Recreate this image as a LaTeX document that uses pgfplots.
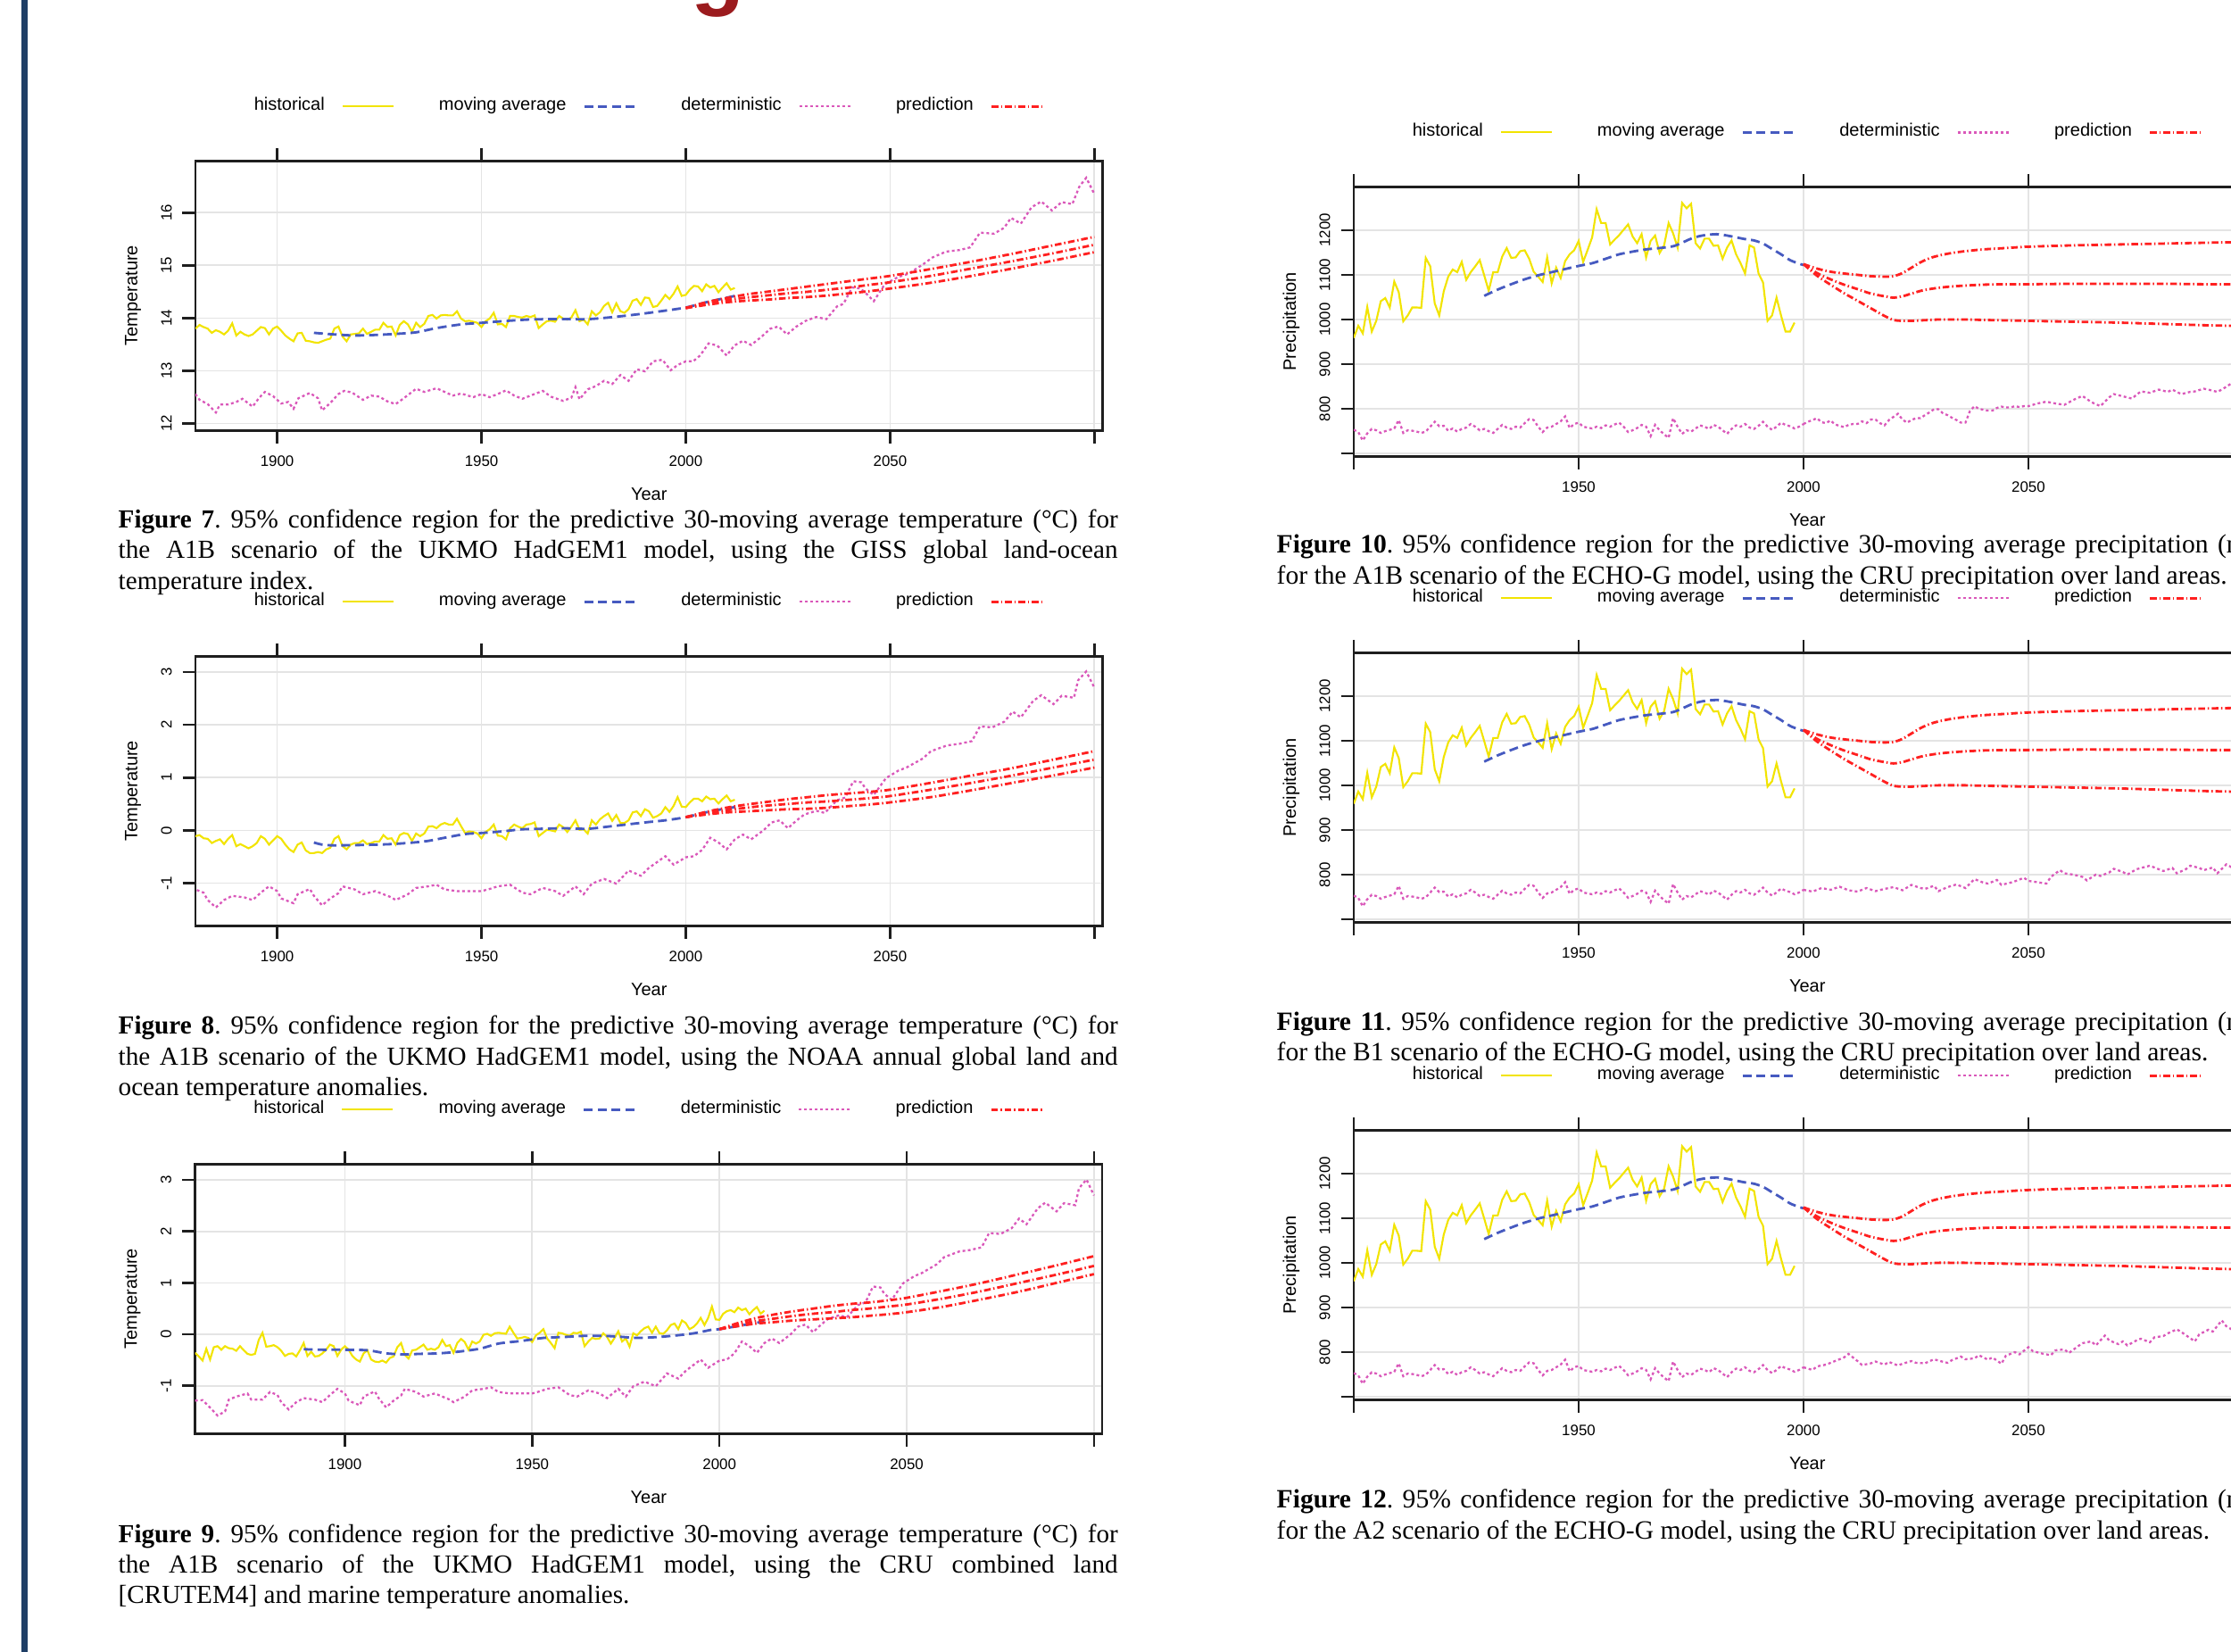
\documentclass[border=0pt]{standalone}
\usepackage{pgfplots}
\usepackage{pgfplotstable}
\pgfplotsset{compat=1.18}
\usepackage{fontspec}
\setmainfont{Liberation Serif}
\setsansfont{Liberation Sans}

\definecolor{histyellow}{RGB}{242,228,0}
\definecolor{mablue}{RGB}{70,90,192}
\definecolor{detpink}{RGB}{218,88,186}
\definecolor{predred}{RGB}{255,32,32}
\definecolor{gridgray}{RGB}{228,228,228}
\definecolor{axisgray}{RGB}{30,30,30}
\definecolor{barblue}{RGB}{31,63,102}
\definecolor{titlered}{RGB}{155,27,30}

% ---------------- temperature data ----------------
\pgfplotstableread{
x y
1880 13.80
1881 13.87
1882 13.83
1883 13.80
1884 13.72
1885 13.77
1886 13.74
1887 13.69
1888 13.76
1889 13.90
1890 13.67
1891 13.74
1892 13.69
1893 13.66
1894 13.69
1895 13.76
1896 13.83
1897 13.81
1898 13.69
1899 13.80
1900 13.84
1901 13.76
1902 13.67
1903 13.61
1904 13.56
1905 13.71
1906 13.72
1907 13.57
1908 13.56
1909 13.54
1910 13.53
1911 13.56
1912 13.59
1913 13.61
1914 13.80
1915 13.84
1916 13.65
1917 13.56
1918 13.69
1919 13.70
1920 13.71
1921 13.80
1922 13.70
1923 13.74
1924 13.78
1925 13.78
1926 13.91
1927 13.83
1928 13.84
1929 13.67
1930 13.87
1931 13.94
1932 13.88
1933 13.74
1934 13.91
1935 13.83
1936 13.89
1937 14.04
1938 14.06
1939 13.99
1940 14.05
1941 14.06
1942 14.05
1943 14.05
1944 14.13
1945 13.99
1946 13.94
1947 13.95
1948 13.93
1949 13.91
1950 13.83
1951 13.94
1952 13.99
1953 14.10
1954 13.88
1955 13.89
1956 13.83
1957 14.04
1958 14.04
1959 14.02
1960 14.01
1961 14.04
1962 14.02
1963 14.05
1964 13.81
1965 13.88
1966 13.94
1967 13.95
1968 13.93
1969 14.04
1970 13.99
1971 13.97
1972 14.01
1973 14.15
1974 13.94
1975 13.97
1976 13.88
1977 14.13
1978 14.05
1979 14.11
1980 14.23
1981 14.29
1982 14.11
1983 14.28
1984 14.13
1985 14.10
1986 14.17
1987 14.33
1988 14.36
1989 14.25
1990 14.39
1991 14.38
1992 14.21
1993 14.23
1994 14.33
1995 14.44
1996 14.36
1997 14.46
1998 14.60
1999 14.42
2000 14.44
2001 14.54
2002 14.61
2003 14.60
2004 14.51
2005 14.64
2006 14.58
2007 14.61
2008 14.49
2009 14.58
2010 14.66
2011 14.54
2012 14.57
}\histA

\pgfplotstableread{
x y
1909 13.72
1914 13.69
1919 13.67
1924 13.68
1929 13.70
1934 13.73
1939 13.81
1945 13.88
1950 13.91
1955 13.94
1961 13.97
1966 13.98
1971 13.98
1976 13.98
1981 14.01
1987 14.06
1993 14.12
2000 14.20
2005 14.30
2012 14.42
}\maA

\pgfplotstableread{
x y
1880 12.56
1881 12.45
1883 12.37
1885 12.21
1886 12.36
1888 12.36
1890 12.41
1891.5 12.47
1894 12.32
1895.5 12.48
1897 12.60
1899 12.52
1901 12.38
1902.7 12.41
1904 12.28
1905.2 12.48
1908 12.58
1910 12.48
1911 12.25
1913 12.39
1915 12.56
1916.4 12.62
1918.3 12.59
1921 12.45
1923 12.53
1925 12.51
1927 12.42
1929 12.37
1931 12.48
1934 12.66
1936 12.60
1939 12.67
1941 12.60
1943 12.53
1945 12.57
1948 12.50
1950 12.56
1952 12.50
1954 12.56
1956 12.63
1958 12.53
1960 12.47
1962 12.53
1965 12.62
1967 12.51
1970 12.43
1972 12.49
1973 12.69
1974 12.46
1976 12.65
1978 12.71
1980 12.81
1982 12.75
1984 12.92
1986 12.81
1988 13.03
1990 12.99
1992 13.18
1994.3 13.21
1996.3 13.01
1998 13.11
2000 13.18
2001.8 13.18
2003.5 13.29
2005.6 13.52
2007.7 13.48
2010 13.29
2011.9 13.48
2014 13.57
2016 13.49
2018.6 13.65
2020.7 13.80
2022.7 13.84
2024.8 13.69
2026.9 13.83
2029.4 13.95
2031.9 14.02
2034.4 13.98
2037 14.22
2038.6 14.27
2040.7 14.58
2042.8 14.56
2044.5 14.44
2046 14.32
2048.7 14.64
2052 14.78
2054.5 14.84
2057.9 15.01
2060.4 15.15
2063.7 15.26
2067 15.29
2069.6 15.34
2072 15.62
2075.4 15.60
2077.9 15.71
2079.6 15.90
2082 15.79
2084.6 16.10
2087 16.21
2089.6 16.04
2092 16.20
2094.6 16.16
2096.3 16.49
2098 16.66
2100 16.35
}\detA

\pgfplotstableread{
x u m l
2000 14.19 14.19 14.19
2005 14.30 14.27 14.25
2010 14.38 14.34 14.30
2015 14.45 14.39 14.33
2020 14.50 14.43 14.35
2025 14.55 14.47 14.38
2030 14.60 14.50 14.40
2035 14.65 14.54 14.43
2040 14.70 14.58 14.47
2045 14.75 14.63 14.51
2050 14.80 14.68 14.56
2060 14.93 14.80 14.67
2070 15.07 14.94 14.80
2080 15.22 15.08 14.94
2090 15.38 15.23 15.09
2100 15.54 15.39 15.25
}\predA

\pgfplotstableread{
x y
1880 -0.11
1881 -0.09
1882 -0.15
1883 -0.16
1884 -0.24
1885 -0.20
1886 -0.17
1887 -0.26
1888 -0.16
1889 -0.09
1890 -0.30
1891 -0.26
1892 -0.30
1893 -0.34
1894 -0.30
1895 -0.24
1896 -0.11
1897 -0.16
1898 -0.27
1899 -0.19
1900 -0.11
1901 -0.16
1902 -0.27
1903 -0.36
1904 -0.41
1905 -0.27
1906 -0.23
1907 -0.38
1908 -0.43
1909 -0.43
1910 -0.41
1911 -0.43
1912 -0.36
1913 -0.33
1914 -0.16
1915 -0.11
1916 -0.30
1917 -0.36
1918 -0.27
1919 -0.24
1920 -0.24
1921 -0.19
1922 -0.26
1923 -0.24
1924 -0.21
1925 -0.21
1926 -0.09
1927 -0.16
1928 -0.15
1929 -0.27
1930 -0.09
1931 -0.05
1932 -0.07
1933 -0.20
1934 -0.06
1935 -0.11
1936 -0.06
1937 0.07
1938 0.08
1939 0.04
1940 0.11
1941 0.14
1942 0.11
1943 0.11
1944 0.22
1945 0.08
1946 -0.05
1947 -0.02
1948 -0.03
1949 -0.06
1950 -0.15
1951 -0.03
1952 0.02
1953 0.11
1954 -0.10
1955 -0.11
1956 -0.17
1957 0.04
1958 0.11
1959 0.07
1960 0.04
1961 0.11
1962 0.12
1963 0.15
1964 -0.11
1965 -0.05
1966 0.01
1967 0.00
1968 -0.02
1969 0.11
1970 0.06
1971 -0.03
1972 0.07
1973 0.19
1974 0.01
1975 0.02
1976 -0.06
1977 0.19
1978 0.11
1979 0.21
1980 0.27
1981 0.32
1982 0.18
1983 0.29
1984 0.14
1985 0.14
1986 0.19
1987 0.34
1988 0.36
1989 0.27
1990 0.40
1991 0.36
1992 0.24
1993 0.27
1994 0.32
1995 0.44
1996 0.35
1997 0.46
1998 0.63
1999 0.45
2000 0.44
2001 0.53
2002 0.60
2003 0.60
2004 0.55
2005 0.64
2006 0.59
2007 0.60
2008 0.51
2009 0.59
2010 0.66
2011 0.55
2012 0.58
}\histB

\pgfplotstableread{
x y
1909 -0.23
1912 -0.28
1919 -0.28
1928 -0.26
1936 -0.21
1941 -0.14
1946 -0.07
1950 -0.05
1955 -0.02
1960 0.02
1965 0.03
1970 0.04
1976 0.03
1982 0.08
1990 0.15
1995 0.19
2000 0.25
2006 0.36
2012 0.44
}\maB

\pgfplotstableread{
x y
1860 -1.29
1862 -1.28
1863 -1.35
1865 -1.50
1866 -1.58
1868 -1.50
1869 -1.27
1871 -1.21
1874 -1.15
1875 -1.27
1878 -1.27
1880 -1.12
1882 -1.18
1883 -1.32
1885 -1.46
1887 -1.32
1889 -1.24
1892 -1.27
1894 -1.32
1896 -1.18
1898 -1.06
1900 -1.15
1901 -1.29
1904 -1.38
1905 -1.21
1908 -1.11
1909 -1.24
1911 -1.42
1913 -1.29
1915 -1.19
1916 -1.06
1919 -1.12
1921 -1.21
1924 -1.15
1926 -1.21
1928 -1.27
1929 -1.32
1932 -1.21
1934 -1.09
1937 -1.06
1939 -1.03
1941 -1.12
1944 -1.15
1947 -1.15
1950 -1.15
1952 -1.11
1954 -1.06
1957 -1.03
1960 -1.18
1962 -1.21
1965 -1.09
1968 -1.15
1970 -1.24
1973 -1.06
1975 -1.21
1977 -1.01
1980 -0.92
1983 -1.01
1986 -0.76
1989 -0.86
1991 -0.71
1995 -0.49
1997 -0.65
2000 -0.51
2002 -0.49
2004 -0.37
2006 -0.14
2008 -0.23
2010 -0.36
2012 -0.17
2014 -0.08
2016 -0.17
2019 0.00
2021 0.15
2023 0.19
2025 0.04
2027 0.18
2029 0.30
2032 0.37
2034 0.33
2037 0.57
2039 0.62
2041 0.93
2043 0.91
2044 0.79
2046 0.67
2049 0.99
2052 1.13
2054 1.19
2058 1.36
2060 1.50
2064 1.61
2067 1.64
2070 1.69
2072 1.97
2075 1.95
2078 2.06
2080 2.25
2082 2.14
2085 2.45
2087 2.56
2090 2.39
2092 2.55
2095 2.51
2096 2.84
2098 3.01
2100 2.70
}\detB

\pgfplotstableread{
x u m l
2000 0.25 0.25 0.25
2005 0.35 0.32 0.30
2010 0.43 0.38 0.34
2015 0.49 0.43 0.36
2020 0.54 0.47 0.38
2025 0.59 0.50 0.40
2030 0.63 0.53 0.41
2035 0.67 0.55 0.43
2040 0.70 0.58 0.46
2045 0.73 0.61 0.49
2050 0.77 0.65 0.53
2060 0.90 0.77 0.63
2070 1.04 0.90 0.76
2080 1.18 1.04 0.90
2090 1.34 1.19 1.04
2100 1.50 1.34 1.19
}\predB

\pgfplotstableread{
x y
1860 -0.36
1861 -0.43
1862 -0.51
1863 -0.28
1864 -0.49
1865 -0.25
1866 -0.23
1867 -0.30
1868 -0.23
1869 -0.27
1870 -0.28
1871 -0.32
1872 -0.23
1873 -0.31
1874 -0.38
1875 -0.40
1876 -0.38
1877 -0.11
1878 0.03
1879 -0.24
1880 -0.23
1881 -0.21
1882 -0.25
1883 -0.32
1884 -0.42
1885 -0.38
1886 -0.37
1887 -0.43
1888 -0.31
1889 -0.17
1890 -0.42
1891 -0.34
1892 -0.43
1893 -0.42
1894 -0.37
1895 -0.30
1896 -0.20
1897 -0.23
1898 -0.42
1899 -0.30
1900 -0.23
1901 -0.30
1902 -0.42
1903 -0.49
1904 -0.53
1905 -0.37
1906 -0.31
1907 -0.49
1908 -0.53
1909 -0.54
1910 -0.51
1911 -0.55
1912 -0.46
1913 -0.43
1914 -0.25
1915 -0.17
1916 -0.40
1917 -0.47
1918 -0.31
1919 -0.30
1920 -0.25
1921 -0.20
1922 -0.30
1923 -0.28
1924 -0.30
1925 -0.25
1926 -0.11
1927 -0.23
1928 -0.21
1929 -0.36
1930 -0.17
1931 -0.09
1932 -0.15
1933 -0.30
1934 -0.14
1935 -0.18
1936 -0.14
1937 -0.01
1938 0.01
1939 -0.03
1940 0.02
1941 0.03
1942 0.02
1943 0.01
1944 0.15
1945 0.03
1946 -0.08
1947 -0.07
1948 -0.05
1949 -0.07
1950 -0.15
1951 -0.02
1952 0.03
1953 0.10
1954 -0.08
1955 -0.17
1956 -0.27
1957 0.03
1958 0.02
1959 -0.01
1960 -0.03
1961 0.03
1962 0.02
1963 0.05
1964 -0.23
1965 -0.14
1966 -0.07
1967 -0.09
1968 -0.08
1969 0.02
1970 -0.05
1971 -0.18
1972 -0.07
1973 0.06
1974 -0.14
1975 -0.08
1976 -0.24
1977 0.02
1978 -0.02
1979 0.06
1980 0.12
1981 0.15
1982 0.03
1983 0.15
1984 0.02
1985 0.01
1986 0.08
1987 0.18
1988 0.21
1989 0.10
1990 0.27
1991 0.22
1992 0.10
1993 0.14
1994 0.21
1995 0.32
1996 0.18
1997 0.32
1998 0.54
1999 0.29
2000 0.28
2001 0.40
2002 0.45
2003 0.47
2004 0.43
2005 0.52
2006 0.47
2007 0.50
2008 0.39
2009 0.47
2010 0.53
2011 0.40
2012 0.46
}\histC

\pgfplotstableread{
x y
1889 -0.29
1894 -0.30
1899 -0.30
1906 -0.31
1911 -0.37
1916 -0.39
1920 -0.38
1925 -0.37
1930 -0.34
1936 -0.28
1941 -0.18
1947 -0.13
1953 -0.07
1959 -0.05
1964 -0.03
1969 -0.03
1974 -0.05
1978 -0.07
1984 -0.05
1990 -0.01
1994 0.03
1998 0.09
2000 0.10
2004 0.15
2008 0.20
2012 0.25
}\maC

\pgfplotstableread{
x u m l
2000 0.10 0.10 0.10
2005 0.22 0.19 0.16
2010 0.32 0.26 0.21
2015 0.39 0.31 0.24
2020 0.45 0.36 0.27
2025 0.50 0.40 0.29
2030 0.55 0.43 0.31
2035 0.59 0.47 0.33
2040 0.62 0.50 0.36
2045 0.66 0.54 0.39
2050 0.71 0.58 0.43
2060 0.85 0.70 0.54
2070 1.00 0.84 0.68
2080 1.17 1.00 0.83
2090 1.34 1.16 1.00
2100 1.52 1.33 1.17
}\predC

% ---------------- precipitation data ----------------
\pgfplotstableread{
x y
1900 959
1901 986
1902 969
1903 1028
1904 973
1905 997
1906 1041
1907 1048
1908 1027
1909 1085
1910 1061
1911 996
1912 1009
1913 1027
1914 1027
1915 1026
1916 1138
1917 1119
1918 1036
1919 1009
1920 1063
1921 1096
1922 1112
1923 1106
1924 1129
1925 1089
1926 1106
1927 1119
1928 1133
1929 1099
1930 1064
1931 1106
1932 1106
1933 1141
1934 1160
1935 1138
1936 1139
1937 1153
1938 1155
1939 1136
1940 1107
1941 1096
1942 1084
1943 1139
1944 1081
1945 1116
1946 1093
1947 1131
1948 1146
1949 1155
1950 1176
1951 1129
1952 1156
1953 1184
1954 1247
1955 1216
1956 1216
1957 1168
1958 1179
1959 1189
1960 1201
1961 1213
1962 1186
1963 1171
1964 1191
1965 1139
1966 1176
1967 1188
1968 1149
1969 1166
1970 1216
1971 1193
1972 1161
1973 1261
1974 1249
1975 1259
1976 1171
1977 1159
1978 1181
1979 1181
1980 1165
1981 1166
1982 1136
1983 1161
1984 1177
1985 1146
1986 1126
1987 1103
1988 1166
1989 1161
1990 1103
1991 1083
1992 997
1993 1009
1994 1049
1995 1009
1996 973
1997 973
1998 993
}\histP

\pgfplotstableread{
x y
1929 1053
1932 1067
1935 1079
1938 1090
1941 1099
1944 1106
1947 1113
1950 1120
1953 1126
1956 1136
1959 1146
1962 1152
1965 1157
1968 1160
1971 1164
1973 1172
1975 1181
1977 1187
1979 1190
1981 1191
1983 1188
1985 1184
1987 1180
1989 1177
1991 1170
1993 1158
1995 1146
1997 1133
1999 1125
2000 1122
}\maP

\pgfplotstableread{
x u m l
2000 1124 1124 1124
2003 1114 1104 1098
2006 1107 1090 1078
2009 1103 1078 1059
2012 1100 1068 1042
2015 1097 1058 1025
2018 1096 1052 1008
2020 1097 1049 999
2022 1104 1052 997
2024 1116 1058 997
2026 1128 1064 998
2028 1137 1068 999
2030 1143 1071 1000
2033 1149 1074 1000
2036 1153 1076 1000
2040 1157 1078 999
2045 1160 1079 998
2050 1163 1079 997
2060 1166 1080 995
2070 1168 1080 993
2080 1170 1080 990
2090 1172 1079 987
2100 1174 1079 985
}\predP

\pgfplotstableread{
x y
1900 753
1901 748
1902 729
1903 745
1904 755
1905 752
1906 746
1907 750
1908 753
1909 756
1910 775
1911 746
1912 752
1913 751
1914 749
1915 746
1916 749
1917 760
1918 771
1919 761
1920 762
1921 751
1922 756
1923 749
1924 755
1925 758
1926 766
1927 760
1928 752
1929 755
1930 750
1931 746
1932 755
1933 764
1934 758
1935 755
1936 760
1937 758
1938 768
1939 777
1940 775
1941 760
1942 748
1943 758
1944 760
1945 766
1946 772
1947 783
1948 757
1949 766
1950 769
1951 760
1952 758
1953 756
1954 760
1955 757
1956 763
1957 760
1958 765
1959 769
1960 760
1961 748
1962 752
1963 757
1964 764
1965 760
1966 739
1967 764
1968 752
1969 743
1970 735
1971 779
1972 760
1973 744
1974 752
1975 749
1976 756
1977 763
1978 760
1979 755
1980 764
1981 760
1982 752
1983 744
1984 755
1985 763
1986 760
1987 766
1988 758
1989 755
1990 762
1991 771
1992 760
1993 753
1994 760
1995 769
1996 764
1997 761
1998 756
1999 760
2000 766
}\detP

\pgfplotstableread{
x y
2000 766
2001 771
2002 775
2003 779
2004 770
2005 768
2006 774
2007 765
2008 762
2009 759
2010 764
2011 766
2012 766
2013 772
2014 768
2015 776
2016 776
2017 768
2018 763
2019 775
2020 782
2021 789
2022 776
2023 769
2024 775
2025 779
2026 779
2027 786
2028 792
2029 799
2030 799
2031 790
2032 786
2033 780
2034 775
2035 769
2036 769
2037 795
2038 806
2039 800
2040 798
2041 796
2042 796
2043 802
2044 805
2045 803
2046 803
2047 806
2048 804
2049 806
2050 806
2052 812
2054 816
2056 812
2058 809
2060 820
2062 829
2064 815
2066 806
2068 826
2069 833
2071 828
2073 823
2075 839
2077 836
2079 843
2081 838
2082 843
2084 833
2086 838
2087 839
2089 845
2090 843
2092 838
2093 843
2095 856
2097 850
2098 848
2100 852
}\detPa

\pgfplotstableread{
x y
2000 766
2002 762
2004 770
2006 766
2008 773
2010 765
2012 762
2014 770
2016 763
2018 768
2020 772
2022 765
2024 777
2026 770
2027 768
2029 775
2030 763
2032 772
2034 778
2036 770
2038 790
2040 782
2041 780
2043 788
2044 777
2046 782
2047 785
2049 793
2050 786
2052 783
2054 780
2055 795
2057 810
2058 803
2060 800
2062 795
2063 787
2065 800
2066 797
2068 805
2069 813
2071 806
2072 800
2074 812
2077 820
2079 812
2080 808
2082 815
2083 803
2085 812
2086 820
2088 815
2089 810
2091 816
2092 803
2094 823
2096 812
2097 815
2099 820
2100 818
}\detPb

\pgfplotstableread{
x y
2000 766
2002 760
2003 768
2005 772
2007 780
2009 788
2010 796
2012 780
2013 771
2015 775
2016 779
2018 772
2019 778
2021 770
2022 774
2024 780
2025 776
2027 775
2029 784
2030 781
2032 776
2033 782
2035 790
2036 784
2038 786
2039 793
2041 783
2042 788
2044 774
2045 792
2047 800
2048 795
2050 811
2051 802
2053 797
2055 793
2056 804
2058 806
2059 798
2061 813
2062 820
2064 824
2065 815
2067 837
2068 826
2070 818
2071 824
2072 815
2074 826
2075 830
2077 822
2078 833
2080 836
2081 842
2083 851
2084 845
2085 838
2087 824
2088 840
2090 850
2091 846
2093 871
2094 858
2096 846
2098 860
2099 865
2100 855
}\detPc

\pgfplotsset{
  panel/.style={
    scale only axis, width=101.65mm, height=30.2mm,
    axis line style={line width=0.75pt, color=axisgray},
    every tick/.style={line width=0.75pt, color=axisgray},
    major tick length=1.45mm,
    tick align=outside,
    xtick pos=both, xticklabel pos=left, ytick pos=left,
    grid=major,
    major grid style={line width=0.5pt, color=gridgray},
    scaled ticks=false,
    tick label style={font=\sffamily\fontsize{4.8}{5.6}\selectfont},
    xticklabel style={anchor=center, yshift=-2.02mm},
    yticklabel style={xshift=-1.8mm, rotate=90, anchor=center},
    xlabel={Year},
    every axis x label/.style={at={(axis description cs:0.5,-0.235)}, anchor=center,
      font=\sffamily\fontsize{5.7}{6.8}\selectfont},
    every axis y label/.style={at={(axis description cs:-0.0689,0.5)}, rotate=90, anchor=center,
      font=\sffamily\fontsize{5.7}{6.8}\selectfont},
    legend columns=4,
    legend plot pos=right,
    legend image code/.code={\draw[##1] (0mm,0mm) -- (5.7mm,0mm);},
    legend style={at={(0.5,1.202)}, anchor=center, draw=none, fill=none,
      inner sep=0pt, outer sep=0pt,
      font=\sffamily\fontsize{5.7}{6.8}\selectfont,
      nodes={inner sep=0pt},
      /tikz/every odd column/.append style={column sep=1.9mm},
      /tikz/every even column/.append style={column sep=5.0mm}},
  },
  tempax/.style={panel,
    xtick={1900,1950,2000,2050,2100}, xticklabels={1900,1950,2000,2050,{}},
    ylabel={Temperature}},
  precax/.style={panel, xmin=1900, xmax=2101.7, ymin=693.5, ymax=1297,
    xtick={1900,1950,2000,2050,2100}, xticklabels={{},1950,2000,2050,2100},
    ytick={700,800,900,1000,1100,1200}, yticklabels={{},800,900,1000,1100,1200},
    ylabel={Precipitation}},
  hist/.style={draw=histyellow, line width=0.6pt, mark=none},
  mavg/.style={draw=mablue, line width=0.8pt, dash pattern=on 1.0mm off 0.55mm, mark=none},
  det/.style={draw=detpink, line width=0.65pt, dash pattern=on 0.3mm off 0.3mm, mark=none},
  pred/.style={draw=predred, line width=0.8pt, dash pattern=on 0.75mm off 0.3mm on 0.15mm off 0.3mm, mark=none},
}

\newcommand{\capt}[1]{\parbox[t]{112mm}{\frenchspacing\fontsize{8.3}{9.75}\selectfont #1}}
\newcommand{\captR}[1]{\parbox[t]{112mm}{\frenchspacing\fontsize{8.42}{9.75}\selectfont #1}}

\begin{document}
\begin{tikzpicture}
\fill[white] (0,0) rectangle (250mm,185.1mm);
\path[use as bounding box] (0,0) rectangle (250mm,185.1mm);
\clip (0,0) rectangle (250mm,185.1mm);
\fill[barblue] (2.4mm,0) rectangle (3.05mm,185.1mm);
\node[anchor=base, text=titlered, font=\sffamily\bfseries\fontsize{28}{30}\selectfont, inner sep=0pt] at (80.5mm,185.24mm) {g};

% ---------- Figure 7 ----------
\begin{axis}[tempax, at={(21.9mm,136.87mm)}, anchor=south west,
  xmin=1880, xmax=2102, ymin=11.87, ymax=16.98,
  ytick={12,13,14,15,16}, yticklabels={12,13,14,15,16}]
\addplot[hist] table[x=x,y=y] {\histA}; \addlegendentry{historical}
\addplot[mavg, smooth] table[x=x,y=y] {\maA}; \addlegendentry{moving average}
\addplot[det] table[x=x,y=y] {\detA}; \addlegendentry{deterministic}
\addplot[pred, smooth] table[x=x,y=u] {\predA}; \addlegendentry{prediction}
\addplot[pred, smooth, forget plot] table[x=x,y=m] {\predA};
\addplot[pred, smooth, forget plot] table[x=x,y=l] {\predA};
\end{axis}
\node[anchor=base west, inner sep=0pt] at (13.2mm,125.95mm) {\capt{\textbf{Figure 7}. 95\% confidence region for the predictive 30-moving average temperature (°C) for\linebreak{} the A1B scenario of the UKMO HadGEM1 model, using the GISS global land-ocean\linebreak{} temperature index.}};

% ---------- Figure 8 ----------
\begin{axis}[tempax, at={(21.9mm,81.37mm)}, anchor=south west,
  xmin=1880, xmax=2102, ymin=-1.807, ymax=3.298,
  ytick={-1,0,1,2,3}, yticklabels={-1,0,1,2,3}]
\addplot[hist] table[x=x,y=y] {\histB}; \addlegendentry{historical}
\addplot[mavg, smooth] table[x=x,y=y] {\maB}; \addlegendentry{moving average}
\addplot[det] table[x=x,y=y] {\detB}; \addlegendentry{deterministic}
\addplot[pred, smooth] table[x=x,y=u] {\predB}; \addlegendentry{prediction}
\addplot[pred, smooth, forget plot] table[x=x,y=m] {\predB};
\addplot[pred, smooth, forget plot] table[x=x,y=l] {\predB};
\end{axis}
\node[anchor=base west, inner sep=0pt] at (13.2mm,69.2mm) {\capt{\textbf{Figure 8}. 95\% confidence region for the predictive 30-moving average temperature (°C) for\linebreak{} the A1B scenario of the UKMO HadGEM1 model, using the NOAA annual global land and\linebreak{} ocean temperature anomalies.}};

% ---------- Figure 9 ----------
\begin{axis}[tempax, at={(21.86mm,24.47mm)}, anchor=south west,
  xmin=1860, xmax=2102.2, ymin=-1.93, ymax=3.31,
  ytick={-1,0,1,2,3}, yticklabels={-1,0,1,2,3}]
\addplot[hist] table[x=x,y=y] {\histC}; \addlegendentry{historical}
\addplot[mavg, smooth] table[x=x,y=y] {\maC}; \addlegendentry{moving average}
\addplot[det] table[x=x,y=y] {\detB}; \addlegendentry{deterministic}
\addplot[pred, smooth] table[x=x,y=u] {\predC}; \addlegendentry{prediction}
\addplot[pred, smooth, forget plot] table[x=x,y=m] {\predC};
\addplot[pred, smooth, forget plot] table[x=x,y=l] {\predC};
\end{axis}
\node[anchor=base west, inner sep=0pt] at (13.2mm,12.26mm) {\capt{\textbf{Figure 9}. 95\% confidence region for the predictive 30-moving average temperature (°C) for\linebreak{} the A1B scenario of the UKMO HadGEM1 model, using the CRU combined land\linebreak{} {[CRUTEM4]} and marine temperature anomalies.}};

% ---------- Figure 10 ----------
\begin{axis}[precax, at={(151.7mm,133.96mm)}, anchor=south west]
\addplot[hist] table[x=x,y=y] {\histP}; \addlegendentry{historical}
\addplot[mavg, smooth] table[x=x,y=y] {\maP}; \addlegendentry{moving average}
\addplot[det] table[x=x,y=y] {\detP}; \addlegendentry{deterministic}
\addplot[det, forget plot] table[x=x,y=y] {\detPa};
\addplot[pred, smooth] table[x=x,y=u] {\predP}; \addlegendentry{prediction}
\addplot[pred, smooth, forget plot] table[x=x,y=m] {\predP};
\addplot[pred, smooth, forget plot] table[x=x,y=l] {\predP};
\end{axis}
\node[anchor=base west, inner sep=0pt] at (143.0mm,123.1mm) {\captR{\textbf{Figure 10}. 95\% confidence region for the predictive 30-moving average precipitation (mm)\linebreak{} for the A1B scenario of the ECHO-G model, using the CRU precipitation over land areas.}};

% ---------- Figure 11 ----------
\begin{axis}[precax, at={(151.7mm,81.77mm)}, anchor=south west]
\addplot[hist] table[x=x,y=y] {\histP}; \addlegendentry{historical}
\addplot[mavg, smooth] table[x=x,y=y] {\maP}; \addlegendentry{moving average}
\addplot[det] table[x=x,y=y] {\detP}; \addlegendentry{deterministic}
\addplot[det, forget plot] table[x=x,y=y] {\detPb};
\addplot[pred, smooth] table[x=x,y=u] {\predP}; \addlegendentry{prediction}
\addplot[pred, smooth, forget plot] table[x=x,y=m] {\predP};
\addplot[pred, smooth, forget plot] table[x=x,y=l] {\predP};
\end{axis}
\node[anchor=base west, inner sep=0pt] at (143.0mm,69.65mm) {\captR{\textbf{Figure 11}. 95\% confidence region for the predictive 30-moving average precipitation (mm)\linebreak{} for the B1 scenario of the ECHO-G model, using the CRU precipitation over land areas.}};

% ---------- Figure 12 ----------
\begin{axis}[precax, at={(151.7mm,28.27mm)}, anchor=south west]
\addplot[hist] table[x=x,y=y] {\histP}; \addlegendentry{historical}
\addplot[mavg, smooth] table[x=x,y=y] {\maP}; \addlegendentry{moving average}
\addplot[det] table[x=x,y=y] {\detP}; \addlegendentry{deterministic}
\addplot[det, forget plot] table[x=x,y=y] {\detPc};
\addplot[pred, smooth] table[x=x,y=u] {\predP}; \addlegendentry{prediction}
\addplot[pred, smooth, forget plot] table[x=x,y=m] {\predP};
\addplot[pred, smooth, forget plot] table[x=x,y=l] {\predP};
\end{axis}
\node[anchor=base west, inner sep=0pt] at (143.0mm,16.1mm) {\captR{\textbf{Figure 12}. 95\% confidence region for the predictive 30-moving average precipitation (mm)\linebreak{} for the A2 scenario of the ECHO-G model, using the CRU precipitation over land areas.}};
\end{tikzpicture}
\end{document}
